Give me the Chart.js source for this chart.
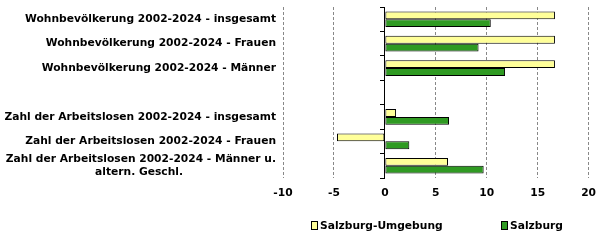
<!DOCTYPE html>
<html>
<head>
<meta charset="utf-8">
<script src="https://cdn.jsdelivr.net/npm/chart.js@4/dist/chart.umd.min.js"></script>
<style>
  html, body { margin: 0; padding: 0; background: #fff; }
  #wrap { position: relative; width: 605px; height: 244px; }
  .leg { position: absolute; top: 219px; font: bold 10.7px "DejaVu Sans", Verdana, sans-serif; color: #000; white-space: nowrap; }
  .leg i { display: inline-block; width: 5px; height: 7px; border: 1px solid #000; margin-right: 2px; vertical-align: -1px; }
</style>
</head>
<body>
<div id="wrap">
  <canvas id="c" width="605" height="244"></canvas>
  <div class="leg" style="left:311px"><i style="background:#FFFF99"></i>Salzburg-Umgebung</div>
  <div class="leg" style="left:501px"><i style="background:#2f9a22"></i>Salzburg</div>
</div>
<script>
// Kategorien (leere Zeile als Trenner)
const KATEGORIEN = [
    'Wohnbevölkerung 2002-2024 - insgesamt',
    'Wohnbevölkerung 2002-2024 - Frauen',
    'Wohnbevölkerung 2002-2024 - Männer',
    '',
    'Zahl der Arbeitslosen 2002-2024 - insgesamt',
    'Zahl der Arbeitslosen 2002-2024 - Frauen',
    ['Zahl der Arbeitslosen 2002-2024 - Männer u.', 'altern. Geschl.' + ' '.repeat(25)]
];
const UMGEBUNG = [16.7, 16.7, 16.7, null, 1.1, -4.7, 6.2];
const SALZBURG = [10.4, 9.2, 11.8, null, 6.3, 2.4, 9.7];

const FONT = { family: '"DejaVu Sans", Verdana, sans-serif', size: 10.7, weight: 'bold' };

// Randabstände der Kategorieachsen entfernen
const noPad = s => { s.paddingTop = 0; s.paddingBottom = 0; };

new Chart(document.getElementById('c').getContext('2d'), {
    type: 'bar',
    data: {
        labels: KATEGORIEN,
        datasets: [
            {
                label: 'Salzburg-Umgebung',
                data: UMGEBUNG,
                backgroundColor: '#FFFF99',
                borderColor: '#000',
                borderWidth: 1,
                borderSkipped: false
            },
            {
                label: 'Salzburg',
                data: SALZBURG,
                backgroundColor: '#2f9a22',
                borderColor: '#000',
                borderWidth: 1,
                borderSkipped: false
            }
        ]
    },
    options: {
        indexAxis: 'y',
        responsive: false,
        animation: false,
        datasets: { bar: { categoryPercentage: 0.64, barPercentage: 1 } },
        layout: { padding: { top: 7, right: 16, bottom: 0, left: 0 } },
        plugins: { legend: { display: false }, tooltip: { enabled: false } },
        scales: {
            x: {
                min: -10, max: 20,
                ticks: { stepSize: 5, color: '#000', font: FONT, padding: 9 },
                grid: { color: '#888', drawTicks: false },
                border: { display: false, dash: [3, 2] },
                afterFit: s => { s.height = 66; }
            },
            y: {
                position: 'left',
                ticks: { color: '#000', font: FONT, padding: 7, autoSkip: false },
                grid: { display: false, drawTicks: false },
                border: { display: false },
                afterFit: s => { s.width = 283; noPad(s); }
            },
            y2: {
                type: 'category',
                axis: 'y',
                labels: KATEGORIEN,
                position: { x: 0 },
                offset: true,
                ticks: { display: false },
                grid: { offset: true, drawOnChartArea: false, tickLength: 4, color: '#000' },
                border: { color: '#000', width: 1 },
                afterFit: noPad
            }
        }
    }
});
</script>
</body>
</html>
